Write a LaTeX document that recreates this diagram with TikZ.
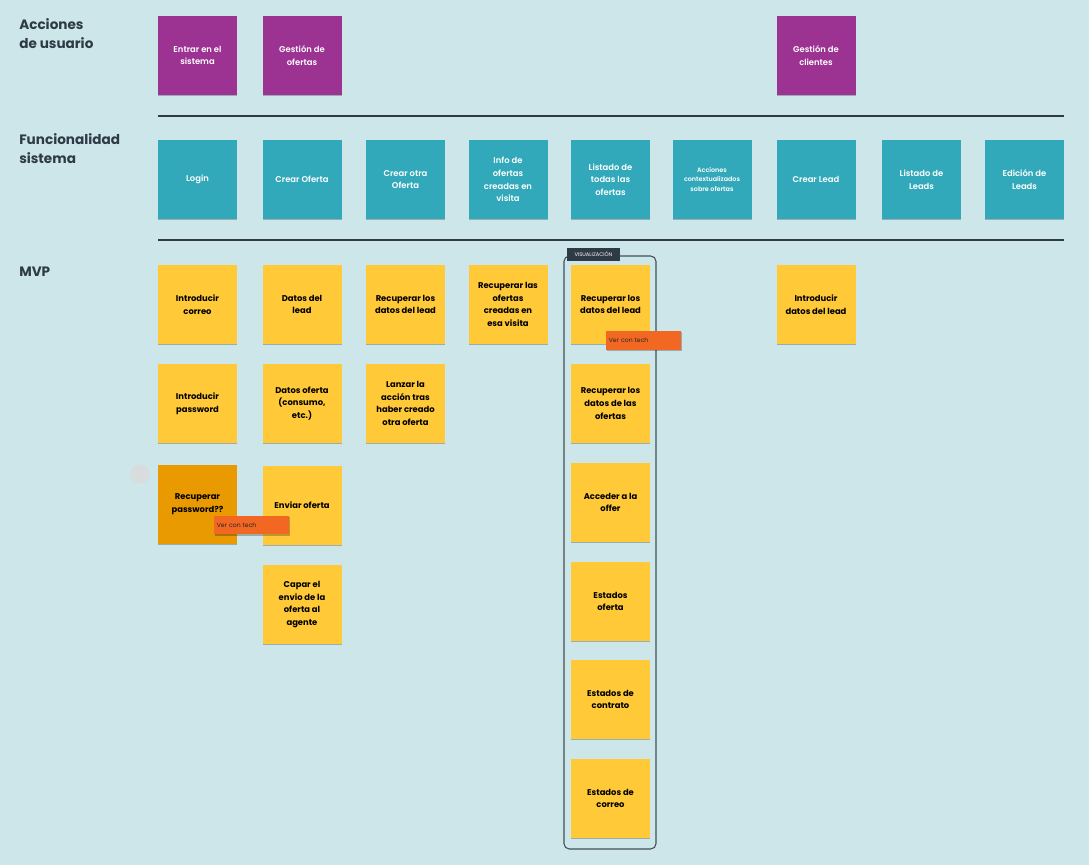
\documentclass[tikz,border=0pt]{standalone}
\usepackage{fontspec}
\setmainfont{Poppins}
\newfontfamily\psemi{Poppins SemiBold}
\usetikzlibrary{shadows}
\definecolor{bgc}{HTML}{CDE6EA}
\definecolor{purp}{HTML}{9C3291}
\definecolor{teal2}{HTML}{32A9BA}
\definecolor{yel}{HTML}{FFC938}
\definecolor{dorange}{HTML}{E89A00}
\definecolor{tagc}{HTML}{F26722}
\definecolor{darkl}{HTML}{2E3A45}
\definecolor{circg}{HTML}{D8DCDD}
\tikzset{
  x=0.75pt, y=-0.75pt,
  card/.style={minimum width=59.25pt, minimum height=59.25pt, inner sep=0pt, align=center,
    drop shadow={shadow xshift=0pt, shadow yshift=-0.9pt, opacity=0.25, fill=black}},
  purpcard/.style={card, fill=purp, text=white, font=\psemi\fontsize{6.3}{9.4}\selectfont},
  tealcard/.style={card, fill=teal2, text=white, font=\psemi\fontsize{6.3}{9.4}\selectfont},
  yelcard/.style={card, fill=yel, text=black, font=\bfseries\fontsize{6.3}{9.6}\selectfont},
  orcard/.style={card, fill=dorange, text=black, font=\bfseries\fontsize{6.3}{9.6}\selectfont},
  tagbox/.style={fill=tagc, minimum width=56.25pt, minimum height=14pt, inner sep=0pt,
    text width=52pt, align=left, font=\fontsize{4.6}{5.5}\selectfont, text=black!85,
    drop shadow={shadow xshift=0.6pt, shadow yshift=-0.9pt, opacity=0.25, fill=black}},
  head/.style={anchor=north west, align=left, text=darkl, font=\bfseries\fontsize{10.2}{14.3}\selectfont, inner sep=0pt},
  sep/.style={draw=darkl, line width=2.2pt},
}
\begin{document}
\begin{tikzpicture}
\fill[bgc] (0,0) rectangle (1089,865);
\useasboundingbox (0,0) rectangle (1089,865);

% headers
\node[head] (h1) at (19,18) {Acciones\\de usuario};
\node[head] (h2) at (19,133) {Funcionalidad\\sistema};
\node[head] (h3) at (19,267) {MVP};

% separators
\coordinate (l1a) at (158,116); \coordinate (l1b) at (1064,116);
\coordinate (l2a) at (158,240); \coordinate (l2b) at (1064,240);
\draw[sep] (l1a) -- (l1b);
\draw[sep] (l2a) -- (l2b);

% user actions
\node[purpcard] (p1) at (197.5,55.5) {Entrar en el\\sistema};
\node[purpcard] (p2) at (302,55.5) {Gestión de\\ofertas};
\node[purpcard] (p3) at (816,55.5) {Gestión de\\clientes};

% system functionality
\node[tealcard] (t1) at (197.5,179.5) {Login};
\node[tealcard] (t2) at (302,179.5) {Crear Oferta};
\node[tealcard] (t3) at (405.5,179.5) {Crear otra\\Oferta};
\node[tealcard] (t4) at (508,179.5) {Info de\\ofertas\\creadas en\\visita};
\node[tealcard] (t5) at (610.5,179.5) {Listado de\\todas las\\ofertas};
\node[tealcard, font=\psemi\fontsize{4.8}{7.3}\selectfont] (t6) at (712,179.5) {Acciones\\contextualizados\\sobre ofertas};
\node[tealcard] (t7) at (816,179.5) {Crear Lead};
\node[tealcard] (t8) at (921.5,179.5) {Listado de\\Leads};
\node[tealcard] (t9) at (1024.5,179.5) {Edición de\\Leads};

% visualization frame
\draw[draw=darkl!90, line width=0.8pt, rounded corners=4pt] (564,256) rectangle (656,849);
\node[fill=darkl, text=white, font=\fontsize{3.9}{4.5}\selectfont, minimum width=39.75pt, minimum height=9.75pt, inner sep=0pt] (vis) at (593.5,254.5) {VISUALIZACIÓN};

% MVP
\node[fill=circg, circle, minimum size=14.5pt, inner sep=0pt] (dot) at (140,474) {};
\node[yelcard] (m11) at (197.5,304.5) {Introducir\\correo};
\node[yelcard] (m12) at (197.5,403.5) {Introducir\\password};
\node[orcard] (m13) at (197.5,504.5) {Recuperar\\password??};

\node[yelcard] (m21) at (302,304.5) {Datos del\\lead};
\node[yelcard] (m22) at (302,403.5) {Datos oferta\\(consumo,\\etc.)};
\node[yelcard] (m23) at (302,505) {Enviar oferta};
\node[yelcard] (m24) at (302,604.5) {Capar el\\envio de la\\oferta al\\agente};

\node[yelcard] (m31) at (405.5,304.5) {Recuperar los\\datos del lead};
\node[yelcard] (m32) at (405.5,403.5) {Lanzar la\\acción tras\\haber creado\\otra oferta};

\node[yelcard] (m41) at (508,304.5) {Recuperar las\\ofertas\\creadas en\\esa visita};

\node[yelcard] (m51) at (610.5,304.5) {Recuperar los\\datos del lead};
\node[yelcard] (m52) at (610.5,403.5) {Recuperar los\\datos de las\\ofertas};
\node[yelcard] (m53) at (610.5,502.5) {Acceder a la\\offer};
\node[yelcard] (m54) at (610.5,601.5) {Estados\\oferta};
\node[yelcard] (m55) at (610.5,699.5) {Estados de\\contrato};
\node[yelcard] (m56) at (610.5,798.5) {Estados de\\correo};

\node[yelcard] (m71) at (816,304.5) {Introducir\\datos del lead};

% tags
\node[tagbox] (tag1) at (643.5,340.5) {Ver con tech};
\node[tagbox] (tag2) at (251.5,525) {Ver con tech};
\end{tikzpicture}
\end{document}
